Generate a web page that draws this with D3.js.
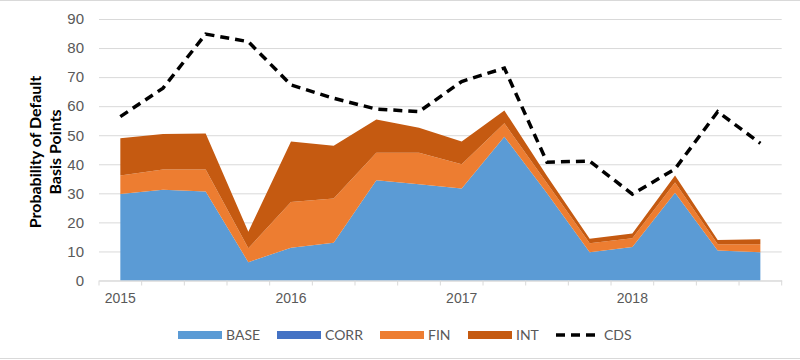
<!DOCTYPE html>
<html>
<head>
<meta charset="utf-8">
<script src="https://cdn.jsdelivr.net/npm/d3@7"></script>
<style>
  body { margin: 0; background: #fff; }
  svg { font-family: Lato, "Open Sans", sans-serif; }
</style>
</head>
<body>
<svg id="chart" width="800" height="360"></svg>
<script>
// quarterly values
var quarters = ["2015Q1","2015Q2","2015Q3","2015Q4","2016Q1","2016Q2","2016Q3","2016Q4",
                "2017Q1","2017Q2","2017Q3","2017Q4","2018Q1","2018Q2","2018Q3","2018Q4"];
var tickLabels = ["2015","","","","2016","","","","2017","","","","2018","","",""];
var base = [29.8, 31.2, 30.6, 6.3, 11.3, 13.0, 34.5, 33.1, 31.7, 49.5, 30.0, 9.7, 11.5, 30.2, 10.3, 9.7];
var corr = [0, 0, 0, 0, 0, 0, 0, 0, 0, 0, 0, 0, 0, 0, 0, 0];
var fin  = [6.3, 7.0, 7.6, 4.8, 15.7, 15.2, 9.5, 10.9, 8.3, 4.6, 3.5, 3.1, 3.0, 3.5, 2.2, 2.8];
var intr = [12.9, 12.2, 12.4, 5.7, 20.8, 18.2, 11.4, 8.6, 7.8, 4.4, 2.5, 1.6, 1.7, 2.4, 1.4, 1.7];
var cds  = [56.4, 66.2, 84.8, 82.2, 67.3, 62.7, 59.0, 58.1, 68.5, 73.1, 40.7, 41.1, 29.7, 38.4, 58.1, 47.2];
var yTicks = [0, 10, 20, 30, 40, 50, 60, 70, 80, 90];

var seriesNames = ["BASE", "CORR", "FIN", "INT"];
var colors = {BASE: "#5B9BD5", CORR: "#4472C4", FIN: "#ED7D31", INT: "#C55A11"};

var rows = quarters.map((q, i) => ({q: q, BASE: base[i], CORR: corr[i], FIN: fin[i], INT: intr[i], CDS: cds[i]}));

var svg = d3.select("#chart");
var plotLeft = 99, plotRight = 781.7, plotTop = 19, plotBottom = 280.5;

var x = d3.scaleBand().domain(quarters).range([plotLeft, plotRight]);
var y = d3.scaleLinear().domain([0, 90]).range([plotBottom, plotTop]);
var cx = q => x(q) + x.bandwidth() / 2;

// outer frame lines
svg.append("line").attr("x1", 0).attr("x2", 800).attr("y1", 0.5).attr("y2", 0.5)
    .attr("stroke", "#D9D9D9");
svg.append("line").attr("x1", 0).attr("x2", 800).attr("y1", 358.5).attr("y2", 358.5)
    .attr("stroke", "#D9D9D9");

// y axis with gridlines
var yAxis = svg.append("g")
    .attr("transform", "translate(" + plotLeft + ",0)")
    .call(d3.axisLeft(y).tickValues(yTicks).tickSize(-(plotRight - plotLeft)).tickPadding(15));
yAxis.select(".domain").remove();
yAxis.selectAll(".tick line").attr("stroke", "#D9D9D9").attr("stroke-width", 1);
yAxis.selectAll(".tick text").attr("fill", "#595959").attr("font-size", "15px");

// stacked areas
var stack = d3.stack().keys(seriesNames);
var area = d3.area()
    .x(d => cx(d.data.q))
    .y0(d => y(d[0]))
    .y1(d => y(d[1]));

svg.append("g").selectAll("path")
    .data(stack(rows))
    .enter()
    .append("path")
    .attr("fill", d => colors[d.key])
    .attr("d", area);

// x axis
var xAxis = svg.append("g")
    .attr("transform", "translate(0," + plotBottom + ")")
    .call(d3.axisBottom(x).tickFormat((d, i) => tickLabels[i]).tickSize(0).tickPadding(13));
xAxis.select(".domain").attr("stroke", "#D9D9D9");
xAxis.selectAll(".tick text").attr("fill", "#595959").attr("font-size", "14px");

// tick marks between categories
var edges = quarters.map(q => x(q)).concat([plotRight]);
svg.append("g").selectAll("line")
    .data(edges)
    .enter()
    .append("line")
    .attr("x1", d => d).attr("x2", d => d)
    .attr("y1", plotBottom).attr("y2", plotBottom + 5)
    .attr("stroke", "#D9D9D9");

// CDS dashed line
var line = d3.line().x(d => cx(d.q)).y(d => y(d.CDS));
svg.append("path")
    .datum(rows)
    .attr("fill", "none")
    .attr("stroke", "#000")
    .attr("stroke-width", 3.5)
    .attr("stroke-dasharray", "9,6")
    .attr("d", line);

// y title
var title = svg.append("text")
    .attr("transform", "translate(43,152) rotate(-90)")
    .attr("text-anchor", "middle")
    .attr("font-size", "16px")
    .attr("font-weight", "bold")
    .attr("fill", "#000");
title.append("tspan").attr("x", 0).attr("dy", "-0.15em").text("Probability of Default");
title.append("tspan").attr("x", 0).attr("dy", "1.25em").text("Basis Points");

// legend
var legendItems = [
    {name: "BASE", x: 178}, {name: "CORR", x: 277}, {name: "FIN", x: 380},
    {name: "INT", x: 468}, {name: "CDS", x: 556}
];
var legend = svg.append("g").attr("transform", "translate(0,335)");
legendItems.forEach(it => {
    if (it.name === "CDS") {
        legend.append("line")
            .attr("x1", it.x).attr("x2", it.x + 44)
            .attr("y1", 0).attr("y2", 0)
            .attr("stroke", "#000").attr("stroke-width", 3.5)
            .attr("stroke-dasharray", "9,6");
    } else {
        legend.append("rect")
            .attr("x", it.x).attr("y", -4)
            .attr("width", 44).attr("height", 8)
            .attr("fill", colors[it.name]);
    }
    legend.append("text")
        .attr("x", it.x + 48).attr("y", 0)
        .attr("dy", "0.35em")
        .attr("font-size", "14px")
        .attr("fill", "#595959")
        .text(it.name);
});
</script>
</body>
</html>
